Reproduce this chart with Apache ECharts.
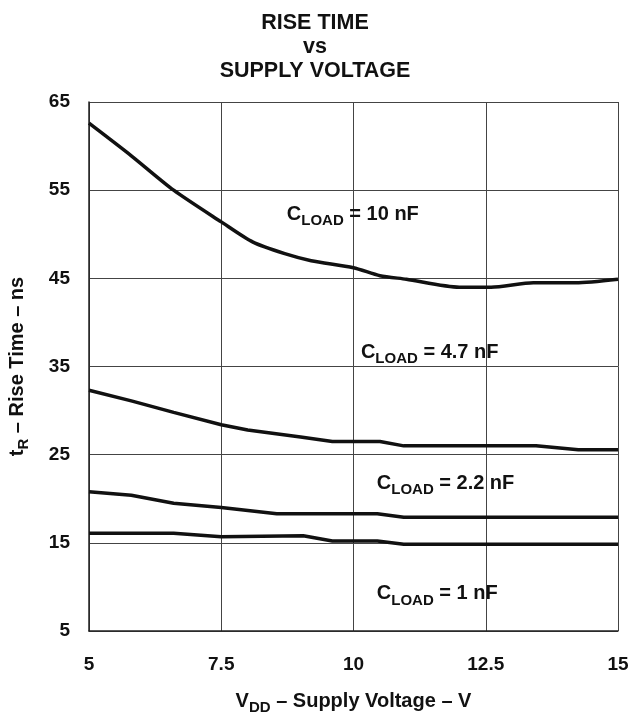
<!DOCTYPE html>
<html>
<head>
<meta charset="utf-8">
<script src="https://cdn.jsdelivr.net/npm/echarts@6/dist/echarts.min.js"></script>
<style>html,body{margin:0;padding:0;background:#fff}#c{width:630px;height:715px}</style>
</head>
<body>
<div id="c"></div>
<script>
const FONT = '"Liberation Sans", Arial, Helvetica, sans-serif';
const xTicks = [5, 7.5, 10, 12.5, 15];
const yTicks = [5, 15, 25, 35, 45, 55, 65];

const load10 = [[5,62.6],[5.8,58.9],[6.6,55.0],[7.5,51.4],[8.1,49.1],[8.7,47.8],[9.2,47.0],[10,46.2],[10.5,45.3],[11,44.9],[12,44.0],[12.6,44.0],[13.4,44.5],[14.2,44.5],[15,44.9]];
const load47 = [[5,32.3],[5.8,31.1],[6.6,29.8],[7.5,28.4],[8.0,27.8],[9.0,27.0],[9.6,26.5],[10.5,26.5],[10.95,26.0],[13.45,26.0],[14.25,25.55],[15,25.55]];
const load22 = [[5,20.8],[5.8,20.4],[6.6,19.5],[7.5,19.0],[8.55,18.3],[10.45,18.3],[10.95,17.9],[15,17.9]];
const load1 = [[5,16.1],[6.6,16.1],[7.5,15.7],[9.05,15.8],[9.6,15.2],[10.45,15.2],[10.95,14.85],[15,14.85]];

const annotations = [
  { text: '{c|C}{s|LOAD}{c| = 10 nF}', at: [8.74, 52.2] },
  { text: '{c|C}{s|LOAD}{c| = 4.7 nF}', at: [10.14, 36.6] },
  { text: '{c|C}{s|LOAD}{c| = 2.2 nF}', at: [10.44, 21.7] },
  { text: '{c|C}{s|LOAD}{c| = 1 nF}', at: [10.44, 9.2] }
];

const rich = {
  c: { fontFamily: FONT, fontWeight: 'bold', fontSize: 20, lineHeight: 20, verticalAlign: 'top', color: '#111' },
  s: { fontFamily: FONT, fontWeight: 'bold', fontSize: 15, lineHeight: 15, verticalAlign: 'top', padding: [9,0,0,0], color: '#111' }
};

function lineSeries(data, smooth) {
  return { type: 'line', data: data, symbol: 'none', smooth: smooth || false,
    lineStyle: { color: '#111', width: 3.5 }, z: 5 };
}

const chart = echarts.init(document.getElementById('c'), null, { renderer: 'canvas' });
chart.setOption({
  animation: false,
  backgroundColor: '#fff',
  textStyle: { fontFamily: FONT },
  title: {
    text: '{t|RISE TIME}\n{t|vs}\n{t|SUPPLY VOLTAGE}',
    left: 'center', top: 6,
    textStyle: { rich: { t: { fontFamily: FONT, fontWeight: 'bold', fontSize: 21.5, lineHeight: 24, color: '#111' } } }
  },
  grid: { left: 89, right: 12, top: 102, bottom: 84, containLabel: false, outerBoundsMode: 'none' },
  xAxis: {
    type: 'value', min: 5, max: 15, interval: 2.5,
    axisLine: { show: true, lineStyle: { color: '#222', width: 1.5 } },
    axisTick: { show: false },
    axisLabel: { color: '#111', fontFamily: FONT, fontWeight: 'bold', fontSize: 19, margin: 24,
      customValues: xTicks, formatter: v => String(v) },
    splitLine: { show: true, lineStyle: { color: '#444', width: 1 } },
    name: '{c|V}{s|DD}{c| – Supply Voltage – V}',
    nameLocation: 'middle', nameGap: 60,
    nameTextStyle: { rich: rich }
  },
  yAxis: {
    type: 'value', min: 5, max: 65,
    axisLine: { show: true, lineStyle: { color: '#222', width: 1.5 } },
    axisTick: { show: false, customValues: yTicks },
    axisLabel: { color: '#111', fontFamily: FONT, fontWeight: 'bold', fontSize: 19, margin: 19,
      customValues: yTicks },
    splitLine: { show: true, lineStyle: { color: '#444', width: 1 } },
    name: '{c|t}{s|R}{c| – Rise Time – ns}',
    nameLocation: 'middle', nameGap: 62, nameRotate: 90,
    nameTextStyle: { rich: rich }
  },
  series: [
    lineSeries(load10, 0.25), lineSeries(load47), lineSeries(load22), lineSeries(load1),
    {
      type: 'scatter', symbolSize: 0, z: 6, silent: true,
      itemStyle: { opacity: 1, color: '#111' },
      data: annotations.map(a => ({ value: a.at, label: { formatter: a.text } })),
      label: { show: true, position: 'right', distance: 0, color: '#111', opacity: 1, rich: rich }
    }
  ]
});
</script>
</body>
</html>
